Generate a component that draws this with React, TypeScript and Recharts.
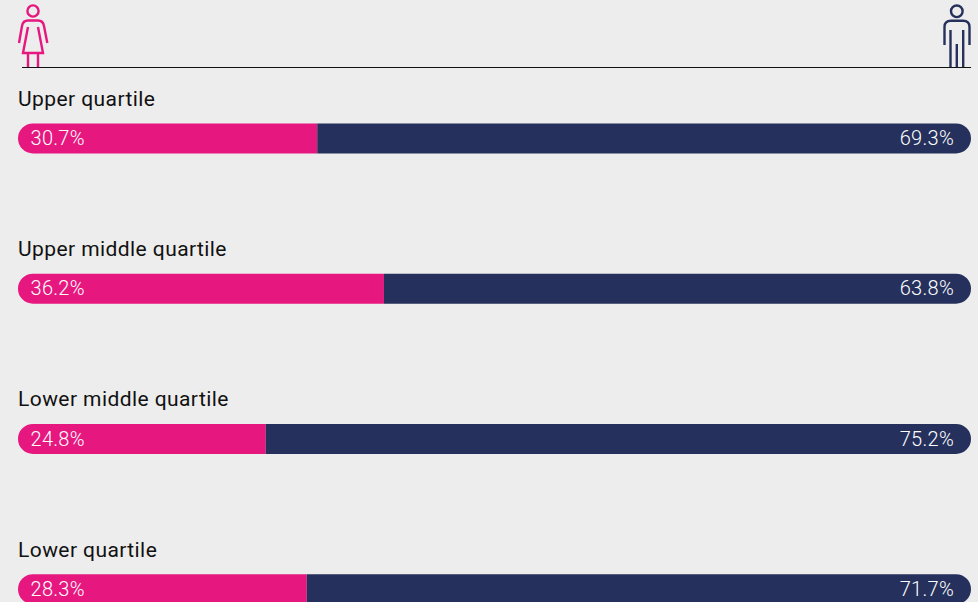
import { BarChart, Bar, XAxis, YAxis, LabelList } from 'recharts';

const categories = ['Upper quartile', 'Upper middle quartile', 'Lower middle quartile', 'Lower quartile'];
// printed percentages
const womenLabels = ['30.7%', '36.2%', '24.8%', '28.3%'];
const menLabels = ['69.3%', '63.8%', '75.2%', '71.7%'];
// bar lengths as drawn in the picture (they run a little longer than the printed numbers)
const womenValues = [31.4, 38.4, 26.0, 30.3];
const menValues = [68.6, 61.6, 74.0, 69.7];

const PINK = '#e6177f';
const NAVY = '#25315c';

const data = categories.map((name, i) => ({
  name,
  women: womenValues[i],
  men: menValues[i],
  womenLabel: womenLabels[i],
  menLabel: menLabels[i],
}));

function CategoryLabel({ x, y, value }: { x?: number; y?: number; value?: string }) {
  return (
    <text
      x={x}
      y={Number(y) - 17.5}
      fill="#111"
      fontSize={21}
      letterSpacing={0.42}
      fontFamily="Roboto"
      textAnchor="start"
    >
      {value}
    </text>
  );
}

function Icons() {
  return (
    <svg width={978} height={70} style={{ position: 'absolute', left: 0, top: 0 }}>
      <line x1={22} y1={67.5} x2={971} y2={67.5} stroke="#111" strokeWidth={1} />
      <g fill="none" stroke={PINK} strokeWidth={2.4}>
        <circle cx={33} cy={11} r={5.6} />
        <path d="M19 43 L22 26 Q23 20.5 28 20.5 L38 20.5 Q43 20.5 44 26 L47.3 43" />
        <path d="M28 27 L23 53 L43 53 L38 27" />
        <path d="M28 53 V67 M38 53 V67" />
      </g>
      <g fill="none" stroke={NAVY} strokeWidth={2.4}>
        <circle cx={956.8} cy={11.3} r={5.8} />
        <path d="M944.5 45 V27 Q944.5 20.7 951 20.7 H963 Q969.5 20.7 969.5 27 V45" />
        <path d="M950.5 30 V67 M963.2 30 V67 M956.8 44 V67" />
      </g>
    </svg>
  );
}

export default function App() {
  return (
    <div
      style={{
        position: 'fixed',
        left: 0,
        top: 0,
        width: 978,
        height: 602,
        overflow: 'hidden',
        background: '#ededed',
      }}
    >
      <BarChart
        layout="vertical"
        width={978}
        height={680}
        data={data}
        barSize={30}
        barCategoryGap={0}
        margin={{ top: 63.4, right: 7, bottom: 15.6, left: 18 }}
      >
        <XAxis type="number" domain={[0, 100]} hide />
        <YAxis type="category" dataKey="name" hide />
        <Bar dataKey="women" stackId="a" fill={PINK} radius={[15, 0, 0, 15]} isAnimationActive={false}>
          <LabelList dataKey="name" content={<CategoryLabel />} />
          <LabelList
            dataKey="womenLabel"
            position="insideLeft"
            offset={12.5}
            dy={-0.5}
            fill="#fff"
            fontSize={20}
            letterSpacing={0.3}
            fontWeight={300}
            fontFamily="Roboto"
          />
        </Bar>
        <Bar dataKey="men" stackId="a" fill={NAVY} radius={[0, 15, 15, 0]} isAnimationActive={false}>
          <LabelList
            dataKey="menLabel"
            position="insideRight"
            offset={17}
            dy={-0.5}
            fill="#fff"
            fontSize={20}
            letterSpacing={0.3}
            fontWeight={300}
            fontFamily="Roboto"
          />
        </Bar>
      </BarChart>
      <Icons />
    </div>
  );
}
